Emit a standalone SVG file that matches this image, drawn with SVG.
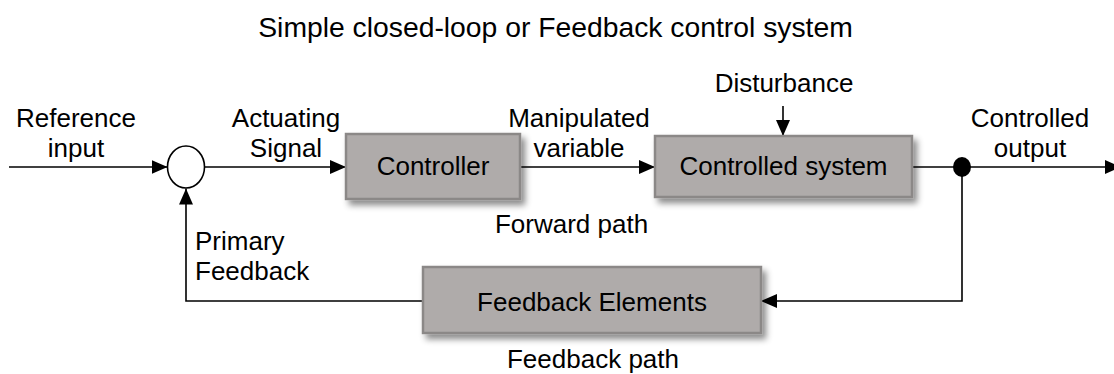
<svg xmlns="http://www.w3.org/2000/svg" width="1114" height="374" viewBox="0 0 1114 374">
<style>
text{font-family:"Liberation Sans",Arial,sans-serif;font-size:26px;fill:#000}
.title{font-size:28.3px}
.box{fill:#afabaa;stroke:#8b8887;stroke-width:2.5;filter:url(#sh)}
.ln{fill:none;stroke:#000;stroke-width:1.6}
.mid{text-anchor:middle}
</style>
<defs>
<filter id="sh" x="-10%" y="-20%" width="125%" height="150%">
<feDropShadow dx="4" dy="5" stdDeviation="3" flood-color="#000" flood-opacity="0.45"/>
</filter>
<marker id="ah" markerUnits="userSpaceOnUse" markerWidth="16" markerHeight="14" refX="16" refY="7" orient="auto">
<path d="M0,0 L16,7 L0,14 z" fill="#000"/>
</marker>
</defs>
<text class="title mid" x="555.5" y="37">Simple closed-loop or Feedback control system</text>
<g id="connectors">
<path class="ln" d="M9,167 L167.5,167" marker-end="url(#ah)"/>
<path class="ln" d="M204.5,167 L346,167" marker-end="url(#ah)"/>
<path class="ln" d="M520,167 L655,167" marker-end="url(#ah)"/>
<path class="ln" d="M783,106 L783,136" marker-end="url(#ah)"/>
<path class="ln" d="M912,167 L962,167"/>
<path class="ln" d="M962,167 L1121,167" marker-end="url(#ah)"/>
<path class="ln" d="M962,167 L962,301 L761,301" marker-end="url(#ah)"/>
<path class="ln" d="M423,301 L186,301 L186,188.5" marker-end="url(#ah)"/>
</g>
<g id="sum">
<ellipse cx="186" cy="167" rx="18.5" ry="21" fill="#fff" stroke="#000" stroke-width="1.6"/>
</g>
<g id="junction">
<ellipse cx="962" cy="167" rx="9" ry="10" fill="#000"/>
</g>
<g id="controller">
<rect class="box" x="346" y="134" width="174" height="65"/>
<text class="mid" x="433" y="175">Controller</text>
</g>
<g id="controlled-system">
<rect class="box" x="655" y="136" width="257" height="61"/>
<text class="mid" x="783.5" y="175">Controlled system</text>
</g>
<g id="feedback-elements">
<rect class="box" x="423" y="267" width="338" height="66"/>
<text class="mid" x="592" y="311">Feedback Elements</text>
</g>
<g id="labels">
<text class="mid" x="76" y="127">Reference</text>
<text class="mid" x="76" y="157">input</text>
<text class="mid" x="286" y="127">Actuating</text>
<text class="mid" x="286" y="157">Signal</text>
<text class="mid" x="579" y="127">Manipulated</text>
<text class="mid" x="579" y="157">variable</text>
<text class="mid" x="784" y="92">Disturbance</text>
<text class="mid" x="1030" y="127">Controlled</text>
<text class="mid" x="1030" y="157">output</text>
<text class="mid" x="571.5" y="233">Forward path</text>
<text x="195" y="250">Primary</text>
<text x="195" y="280">Feedback</text>
<text class="mid" x="593" y="368">Feedback path</text>
</g>
</svg>
